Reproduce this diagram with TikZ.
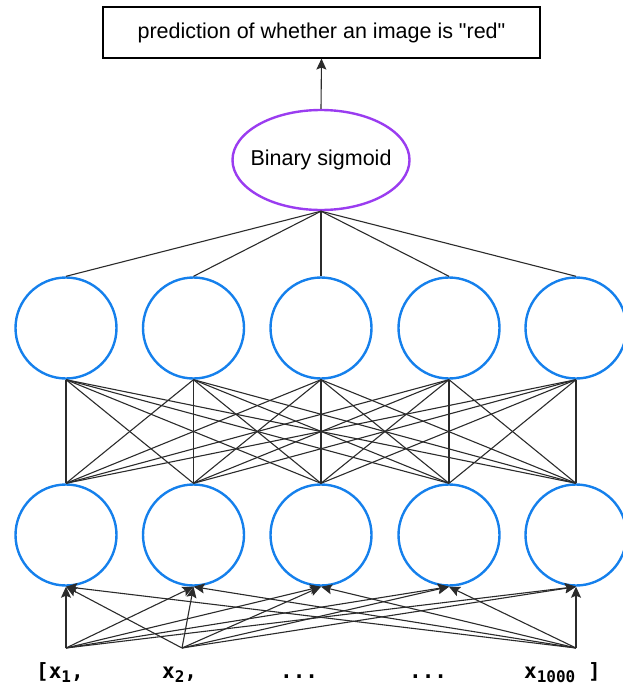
\documentclass[tikz,border=0pt]{standalone}
\usepackage{fontspec}
\setmainfont{Liberation Sans}[Ligatures=TeXOff]
\newfontfamily\codefont{DejaVu Sans Mono}
\usetikzlibrary{arrows.meta,shapes.geometric}
\definecolor{nblue}{HTML}{1580EC}
\definecolor{npurple}{HTML}{9A3CF0}
\definecolor{lgray}{HTML}{2B2B2B}
\tikzset{
  neuron/.style={circle,draw=nblue,line width=2.4pt,minimum size=101pt,inner sep=0pt},
  sigbox/.style={ellipse,draw=npurple,line width=2.4pt,minimum width=177pt,minimum height=100pt,inner sep=0pt,font=\fontsize{21.5}{24}\selectfont},
  outbox/.style={rectangle,draw=black,line width=1.1pt,minimum width=437pt,minimum height=51pt,inner sep=0pt,font=\fontsize{21.5}{24}\selectfont},
  wire/.style={draw=lgray,line width=1.1pt},
  inarrow/.style={draw=lgray,line width=1.1pt,arrows={-Stealth[length=11pt,width=10pt,inset=2pt]}},
  lbl/.style={anchor=base west,inner sep=0pt,font=\codefont\bfseries\fontsize{21}{24}\selectfont}
}
\newcommand{\sbs}[1]{{\fontsize{16}{17}\selectfont\raisebox{-4.5pt}{#1}}}
\begin{document}
\begin{tikzpicture}[x=1pt,y=-1pt]
\useasboundingbox (0,0) rectangle (623,688);
\clip (0,0) rectangle (623,688);
\node[outbox] (out) at (321.5,32.5) {prediction of whether an image is "red"};
\node[sigbox] (sig) at (321,160) {\makebox[0pt]{Binary sigmoid}};
\foreach \i/\x in {1/66,2/193.5,3/321,4/449,5/576}{
  \node[neuron] (t\i) at (\x,328) {};
  \node[neuron] (b\i) at (\x,535) {};
}
\draw[inarrow] (sig.north) -- (out.south);
\foreach \i in {1,...,5}{
  \draw[wire] (sig.south) -- (t\i.north);
  \foreach \j in {1,...,5}{
    \draw[wire] (t\i.south) -- (b\j.north);
  }
}
\coordinate (s1) at (66,648);
\coordinate (s2) at (182,648);
\coordinate (s5) at (576,648);
\foreach \s in {s1,s2,s5}{
  \foreach \j in {1,...,5}{
    \draw[inarrow] (\s) -- (b\j.south);
  }
}
\node[lbl] (l1) at (36,678) {[x\sbs{1},};
\node[lbl] (l2) at (162,678) {x\sbs{2},};
\node[lbl] (l3) at (280,678) {...};
\node[lbl] (l4) at (409,678) {...};
\node[lbl] (l5) at (524,678) {x\sbs{1000} ]};
\end{tikzpicture}
\end{document}
